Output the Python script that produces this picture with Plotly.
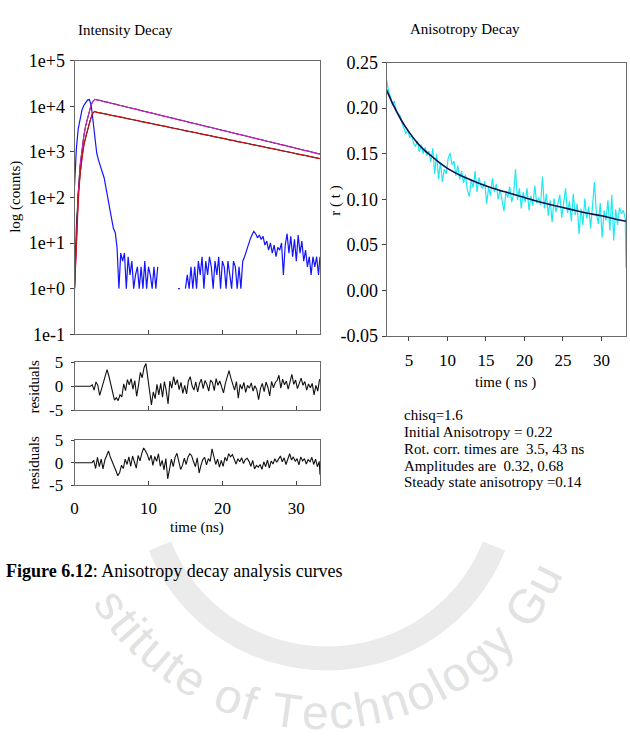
import math
import plotly.graph_objects as go

W, H = 630, 756
def PX(x): return x / W
def PY(y): return 1 - y / H

SERIF = "Liberation Serif, Times New Roman, serif"

# ---------------- Intensity decay data ----------------
irf_t = [round(0.25 * i, 2) for i in range(133)] + [33.2]
irf_counts = [180, 1200, 3200, 5600, 8200, 10400, 12300, 13600, 14000, 10500,
              4800, 1900, 930, 650, 460, 360, 270, 160, 95, 58,
              36, 21, 17, 8, 1, 6, 4, 6, 1, 5,
              2, 4, 1, 2, 3, 1, 3, 1, 4, 1,
              3, 2, 1, 3, 1, 3, None, None, None, None,
              None, None, None, None, None, None, 1, 1, None, None,
              1, 2, 1, 3, 1, 3, 1, 4, 2, 5,
              1, 4, 2, 5, 3, 1, 4, 2, 5, 1,
              4, 3, 1, 4, 2, 1, 4, 3, 1, 3,
              1, 4, 5, 7, 9, 12, 15, 18, 16, 13,
              15, 12, 14, 9, 11, 7, 10, 6, 9, 5,
              8, 7, 10, 2, 9, 16, 6, 14, 5, 12,
              4, 15, 6, 11, 4, 7, 3, 5, 2, 5,
              3, 5, 2,
              5]

rise_t = [0.0, 0.25, 0.5, 0.75, 1.0, 1.25, 1.5, 1.75, 2.0, 2.25, 2.5, 2.75]
decay_t = [3.0 + 0.5 * i for i in range(61)] + [33.2]
fit_decay_t = [float(v) for v in range(3, 34)] + [33.2]

par_rise = [1, 15, 110, 480, 1100, 2200, 3700, 5600, 8000, 10800, 13000, 14100]
par_decay = [13700, 13450, 12550, 12250, 11450, 11250, 10400, 10250, 9600, 9300,
             8700, 8500, 7950, 7750, 7300, 7050, 6650, 6450, 6050, 5900,
             5520, 5400, 5050, 4930, 4620, 4480, 4200, 4100, 3850, 3740,
             3510, 3420, 3210, 3120, 2930, 2860, 2680, 2600, 2440, 2380,
             2230, 2170, 2040, 1980, 1860, 1810, 1700, 1660, 1550, 1510,
             1415, 1380, 1290, 1260, 1180, 1150, 1080, 1050, 985, 955,
             900, 885]
par_fit_rise = [1, 20, 130, 500, 1120, 2200, 3700, 5600, 8000, 10800, 13000, 14100]
par_fit_decay = [13900, 12680, 11590, 10570, 9660, 8810, 8050, 7350, 6710, 6120,
                 5600, 5110, 4670, 4260, 3890, 3550, 3245, 2963, 2705, 2470,
                 2255, 2060, 1880, 1718, 1567, 1431, 1306, 1194, 1089, 995,
                 908, 893]

per_rise = [1, 12, 80, 330, 750, 1350, 2100, 3000, 4200, 5700, 7200, 7700]
per_decay = [7350, 7180, 6780, 6620, 6270, 6140, 5800, 5690, 5380, 5250,
             4970, 4870, 4600, 4500, 4260, 4170, 3940, 3860, 3650, 3570,
             3370, 3300, 3120, 3050, 2890, 2830, 2670, 2620, 2470, 2420,
             2290, 2240, 2120, 2070, 1960, 1920, 1810, 1780, 1680, 1640,
             1550, 1520, 1440, 1405, 1330, 1300, 1230, 1205, 1140, 1115,
             1055, 1030, 975, 955, 905, 880, 835, 818, 773, 757,
             716, 708]
per_fit_rise = [1, 25, 120, 380, 800, 1400, 2150, 3050, 4250, 5750, 7200, 7650]
per_fit_decay = [7400, 6840, 6330, 5860, 5420, 5020, 4645, 4300, 3980, 3680,
                 3405, 3150, 2915, 2700, 2495, 2310, 2137, 1977, 1830, 1693,
                 1567, 1450, 1342, 1242, 1150, 1064, 984, 911, 843, 780,
                 722, 711]

# ---------------- Residuals ----------------
res1_start = [0.0, 2.15]
res1_vals = [0.3, -0.8, 0.9, 0.2, -1.9, -0.5, 1.2, 2.6, 3.5, 2.1,
             0.4, -1.2, -2.9, -2.4, -3.0, -1.8, -2.2, 0.5, -0.9, 1.4,
             0.3, 1.6, -0.6, 1.2, -2.1, 0.2, 2.9, 1.8, 3.9, 4.8,
             2.2, -0.5, -3.9, -1.2, -2.6, 0.4, -1.8, 0.6, -2.3, 1.0,
             -0.9, -3.7, 1.1, -0.4, 2.0, 0.3, 1.4, -0.7, 0.8, -1.5,
             0.2, -1.6, 1.1, 2.0, 0.1, -0.8, 0.9, -1.2, 0.6, 1.5,
             -0.5, 1.2, 0.4, -1.0, 1.3, 0.8, -0.9, 1.6, 0.2, 1.1,
             -0.3, -1.4, 0.6, 1.8, 3.3, 1.7, 0.2, -0.8, 1.0, -2.5,
             0.4, -0.6, 0.8, -1.3, 0.2, -0.4, 0.7, -1.0, 0.1, -0.7,
             -2.8, -0.5, 0.6, -1.1, 0.9, -0.2, -2.0, 1.0, -0.3, 0.8,
             1.2, 2.3, -0.4, 1.5, 0.3, 1.1, -0.6, 0.9, 2.5, 0.4,
             1.3, -0.5, 0.7, 1.7, 0.2, 1.0, -0.8, 0.5, -0.3, 0.6,
             -1.8, 0.2, -1.0, 1.5]
res2_start = [0.0, 2.35]
res2_vals = [0.5, -1.3, 1.2, -0.9, 0.8, -1.4, 0.6, 1.5, 2.6, 1.2,
             0.3, -0.9, -1.8, -2.9, -2.2, -0.6, -1.3, 0.8, -0.4, 1.3,
             -0.8, 1.5, 0.2, -1.2, 1.6, 0.4, 2.1, 3.3, 2.6, 1.8,
             0.5, 1.7, -0.6, 1.4, 0.3, 2.0, -0.8, 0.5, -1.6, 0.9,
             -3.6, -1.0, 0.8, -0.9, 1.2, 2.1, 0.4, -1.5, -0.6, 1.0,
             -0.4, 1.3, 2.0, 1.5, 0.2, -0.9, 1.1, -2.3, -0.6, 0.7,
             1.2, -0.5, 0.9, 0.3, 3.1, 1.0, -0.4, 0.8, -1.0, 0.5,
             -0.8, 1.2, 0.4, 2.0, 1.3, 1.8, 0.6, -0.3, 0.9, 0.2,
             1.1, -0.2, 0.7, 1.0, 0.3, -0.8, 0.5, -1.4, -0.6, -1.0,
             -0.4, -1.5, 0.2, -0.9, 0.6, -1.2, 0.4, -0.3, 0.9, 0.1,
             0.8, 1.5, 0.2, 1.1, -0.4, 0.9, 2.0, 0.6, 1.3, 0.3,
             0.9, -0.5, 1.3, 0.4, 0.9, -0.3, 0.7, 0.2, 1.2, -0.4,
             0.8, -0.9, 0.3,
             -2.7]

res1_t = res1_start + [round(2.4 + 0.25 * i, 2) for i in range(len(res1_vals))]
res1_y = [0, 0] + res1_vals
res2_t = res2_start + [round(2.6 + 0.25 * i, 2) for i in range(len(res2_vals) - 1)] + [33.2]
res2_y = [0, 0] + res2_vals

# ---------------- Anisotropy ----------------
aniso_vals = [0.231, 0.219, 0.213, 0.203, 0.208, 0.198, 0.194, 0.192, 0.184, 0.178,
              0.172, 0.176, 0.168, 0.170, 0.162, 0.158, 0.164, 0.152, 0.160, 0.150,
              0.157, 0.148, 0.153, 0.141, 0.156, 0.128, 0.150, 0.122, 0.141, 0.119,
              0.133, 0.128, 0.145, 0.151, 0.138, 0.142, 0.126, 0.137, 0.122, 0.131,
              0.118, 0.127, 0.110, 0.103, 0.121, 0.113, 0.131, 0.108, 0.124, 0.115,
              0.112, 0.120, 0.095, 0.113, 0.104, 0.123, 0.108, 0.117, 0.100, 0.111,
              0.098, 0.087, 0.108, 0.102, 0.114, 0.097, 0.106, 0.133, 0.099, 0.112,
              0.090, 0.108, 0.097, 0.112, 0.088, 0.104, 0.093, 0.115, 0.096, 0.102,
              0.094, 0.125, 0.090, 0.106, 0.082, 0.099, 0.075, 0.101, 0.086, 0.094,
              0.105, 0.080, 0.096, 0.112, 0.085, 0.098, 0.076, 0.106, 0.083, 0.095,
              0.062, 0.090, 0.072, 0.101, 0.079, 0.092, 0.068, 0.097, 0.119, 0.085,
              0.073, 0.096, 0.058, 0.088, 0.077, 0.099, 0.066, 0.105, 0.055, 0.089,
              0.072, 0.091, 0.084, 0.088, 0.079,
              0.025]
aniso_t = [round(2.1 + 0.25 * i, 2) for i in range(len(aniso_vals) - 1)] + [33.2]

afit_t = [2.1, 3, 4, 5, 6, 7, 8, 9, 10, 12, 14, 16, 18, 20, 22, 24, 26, 28, 30, 32, 33.2]
afit_vals = [0.220, 0.203, 0.187, 0.174, 0.163, 0.154, 0.147, 0.140, 0.134, 0.125,
             0.118, 0.112, 0.107, 0.102, 0.097, 0.093, 0.089, 0.085, 0.082, 0.078, 0.076]

int_ticks = [0.1, 1, 10, 100, 1000, 10000, 100000]
int_ticktext = ["1e-1", "1e+0", "1e+1", "1e+2", "1e+3", "1e+4", "1e+5"]
res_ticks = [-5, 0, 5]
res_ticktext = ["-5", "0", "5"]
aniso_yticks = [-0.05, 0.0, 0.05, 0.10, 0.15, 0.20, 0.25]
aniso_yticktext = ["-0.05", "0.00", "0.05", "0.10", "0.15", "0.20", "0.25"]
aniso_xticks = [5, 10, 15, 20, 25, 30]
time_ticks = [0, 10, 20, 30]

info_lines = ["chisq=1.6", "Initial Anisotropy = 0.22", "Rot. corr. times are  3.5, 43 ns",
              "Amplitudes are  0.32, 0.68", "Steady state anisotropy =0.14"]

# ---------------- Figure ----------------
fig = go.Figure()

def line(x, y, color, width, xa, ya, shape="linear"):
    fig.add_trace(go.Scatter(x=x, y=y, mode="lines", xaxis=xa, yaxis=ya,
                             line=dict(color=color, width=width, shape=shape),
                             hoverinfo="skip", showlegend=False))

line(irf_t, irf_counts, "#1414ff", 1.2, "x", "y")
line(rise_t + fit_decay_t, par_fit_rise + par_fit_decay, "#000000", 1.0, "x", "y")
line(rise_t + fit_decay_t, per_fit_rise + per_fit_decay, "#000000", 1.0, "x", "y")
line(rise_t + decay_t, par_rise + par_decay, "#cc22cc", 1.2, "x", "y")
line(rise_t + decay_t, per_rise + per_decay, "#cc1111", 1.2, "x", "y")

line(res1_t, res1_y, "#111111", 1.1, "x2", "y2")
line(res2_t, res2_y, "#111111", 1.1, "x3", "y3")

line(aniso_t, aniso_vals, "#1ee8f0", 1.2, "x4", "y4")
line(afit_t, afit_vals, "#0c1050", 1.6, "x4", "y4", shape="spline")

tickfont = dict(family=SERIF, size=15, color="black")
bigtick = dict(family=SERIF, size=17, color="black")
ytick = dict(family=SERIF, size=18, color="black")
frame = dict(showline=True, linecolor="#6a6a6a", linewidth=1, mirror=True,
             showgrid=False, zeroline=False, tickcolor="#444")

xl = [PX(71), PX(318)]
fig.update_layout(
    width=W, height=H, autosize=False,
    margin=dict(l=0, r=0, t=0, b=0),
    paper_bgcolor="white", plot_bgcolor="white",
    showlegend=False,
    xaxis=dict(domain=xl, anchor="y", range=[0, 33.2], ticks="inside", ticklen=4,
               tickvals=time_ticks[1:], showticklabels=False, tickfont=tickfont, **frame),
    yaxis=dict(domain=[PY(333), PY(52)], anchor="x", type="log", range=[-1, 5],
               tickvals=int_ticks, ticktext=int_ticktext, ticks="outside", ticklen=4,
               ticklabelstandoff=1, tickfont=ytick, **frame),
    xaxis2=dict(domain=xl, anchor="y2", range=[0, 33.2], ticks="inside", ticklen=4,
                tickvals=time_ticks[1:], showticklabels=False, tickfont=tickfont, **frame),
    yaxis2=dict(domain=[PY(411), PY(362)], anchor="x2", range=[-5, 5],
                tickvals=res_ticks, ticktext=res_ticktext, ticks="outside", ticklen=3,
                ticklabelstandoff=4, tickfont=bigtick, **frame),
    xaxis3=dict(domain=xl, anchor="y3", range=[0, 33.2], ticks="inside", ticklen=4,
                tickvals=time_ticks, ticklabelstandoff=8, tickfont=bigtick, **frame),
    yaxis3=dict(domain=[PY(488), PY(442)], anchor="x3", range=[-5, 5],
                tickvals=res_ticks, ticktext=res_ticktext, ticks="outside", ticklen=3,
                ticklabelstandoff=4, tickfont=bigtick, **frame),
    xaxis4=dict(domain=[PX(385), PX(626)], anchor="y4", range=[2.1, 33.2], ticks="outside",
                ticklen=4, tickvals=aniso_xticks, ticklabelstandoff=4, tickfont=bigtick, **frame),
    yaxis4=dict(domain=[PY(335), PY(54)], anchor="x4", range=[-0.05, 0.25], ticks="outside",
                ticklen=4, tickvals=aniso_yticks, ticktext=aniso_yticktext,
                ticklabelstandoff=0, tickfont=ytick, **frame),
)

annotations = []
shapes = []

# ---- faint watermark (decoration) ----
wm_color = "#e2e2e2"
cx, cy, R = 325, 486, 180
pts = []
for k in range(0, 139):
    a = math.radians(-69 + k)
    pts.append((cx + R * math.sin(a), cy + R * math.cos(a)))
path = "M " + " L ".join(f"{PX(x):.5f},{PY(y):.5f}" for x, y in pts)
shapes.append(dict(type="path", path=path, xref="paper", yref="paper",
                   line=dict(color="#ebebeb", width=24), layer="below"))

wm_text = "stitute of Technology Gu"
wm_w = {"i": 0.24, "t": 0.3, "s": 0.5, "u": 0.56, "e": 0.56, "o": 0.56, "f": 0.3,
        "T": 0.62, "c": 0.5, "h": 0.56, "n": 0.56, "l": 0.24, "g": 0.56, "y": 0.5,
        "G": 0.78, " ": 0.3}
cum = []
acc = 0.0
for ch in wm_text:
    w = wm_w.get(ch, 0.5)
    cum.append(acc + w / 2)
    acc += w
a0, a1 = -56.0, 63.0
wcx, wcy, WR = 318, 470, 252
for ch, c in zip(wm_text, cum):
    if ch == " ":
        continue
    ang = a0 + (a1 - a0) * (c - cum[0]) / (cum[-1] - cum[0])
    ar = math.radians(ang)
    x = wcx + WR * math.sin(ar)
    y = wcy + WR * math.cos(ar)
    annotations.append(dict(text=ch, x=PX(x), y=PY(y), xref="paper", yref="paper",
                            showarrow=False, xanchor="center", yanchor="middle",
                            textangle=-ang,
                            font=dict(family="Liberation Sans, Arial, sans-serif",
                                      size=48, color=wm_color)))

def txt(s, x, y, size=15, angle=0, xanchor="center", bold=False):
    annotations.append(dict(text=(f"<b>{s}</b>" if bold else s), x=PX(x), y=PY(y),
                            xref="paper", yref="paper", showarrow=False,
                            xanchor=xanchor, yanchor="middle", textangle=angle,
                            font=dict(family=SERIF, size=size, color="black")))

txt("Intensity Decay", 122, 21)
txt("Anisotropy Decay", 464, 20)
txt("log (counts)", 12, 192, angle=-90)
txt("residuals", 30, 387, angle=-90)
txt("residuals", 30, 465, angle=-90)
txt("time (ns)", 194, 532)
txt("r ( t )", 334, 196, angle=-90)
txt("time ( ns )", 505, 383)
for i, s in enumerate(info_lines):
    txt(s, 401, 416 + 17.3 * i, xanchor="left")
annotations.append(dict(text="<b>Figure 6.12</b>: Anisotropy decay analysis curves",
                        x=0, y=PY(576), xref="paper", yref="paper", showarrow=False,
                        xanchor="left", yanchor="middle",
                        font=dict(family=SERIF, size=18, color="black")))

fig.update_layout(annotations=annotations, shapes=shapes)
fig.write_html("out.html")
